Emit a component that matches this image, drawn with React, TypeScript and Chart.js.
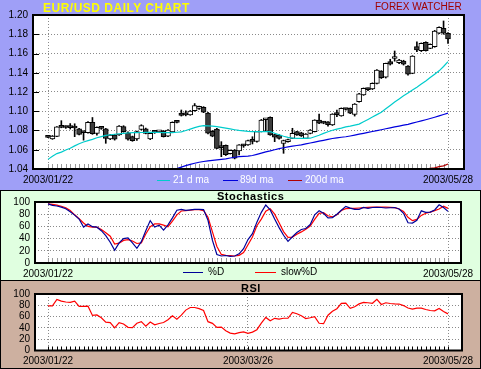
import React, { useEffect, useRef } from "react";
import { Chart, registerables } from "chart.js";

Chart.register(...registerables);

const FONT = "'Liberation Sans', Arial, sans-serif";

const dates = [
  "2003/01/22","2003/01/23","2003/01/24","2003/01/27","2003/01/28","2003/01/29","2003/01/30","2003/01/31",
  "2003/02/03","2003/02/04","2003/02/05","2003/02/06","2003/02/07","2003/02/10","2003/02/11","2003/02/12","2003/02/13","2003/02/14",
  "2003/02/17","2003/02/18","2003/02/19","2003/02/20","2003/02/21","2003/02/24","2003/02/25","2003/02/26","2003/02/27","2003/02/28",
  "2003/03/03","2003/03/04","2003/03/05","2003/03/06","2003/03/07","2003/03/10","2003/03/11","2003/03/12","2003/03/13","2003/03/14",
  "2003/03/17","2003/03/18","2003/03/19","2003/03/20","2003/03/21","2003/03/24","2003/03/25","2003/03/26","2003/03/27","2003/03/28","2003/03/31",
  "2003/04/01","2003/04/02","2003/04/03","2003/04/04","2003/04/07","2003/04/08","2003/04/09","2003/04/10","2003/04/11",
  "2003/04/14","2003/04/15","2003/04/16","2003/04/17","2003/04/18","2003/04/21","2003/04/22","2003/04/23","2003/04/24","2003/04/25",
  "2003/04/28","2003/04/29","2003/04/30","2003/05/01","2003/05/02","2003/05/05","2003/05/06","2003/05/07","2003/05/08","2003/05/09",
  "2003/05/12","2003/05/13","2003/05/14","2003/05/15","2003/05/16","2003/05/19","2003/05/20","2003/05/21","2003/05/22","2003/05/23",
  "2003/05/26","2003/05/27","2003/05/28",
];

const open = [
  1.0732, 1.0712, 1.0738, 1.0838, 1.0835, 1.0834, 1.0830, 1.0817, 1.0782, 1.0777,
  1.0885, 1.0770, 1.0826, 1.0817, 1.0712, 1.0753, 1.0753, 1.0840, 1.0777, 1.0736,
  1.0712, 1.0810, 1.0817, 1.0712, 1.0786, 1.0785, 1.0795, 1.0740, 1.0785, 1.0899,
  1.0982, 1.0970, 1.0962, 1.1005, 1.1030, 1.1040, 1.0982, 1.0792, 1.0815, 1.0632,
  1.0645, 1.0560, 1.0597, 1.0587, 1.0646, 1.0650, 1.0709, 1.0686, 1.0788, 1.0912,
  1.0937, 1.0757, 1.0753, 1.0667, 1.0684, 1.0719, 1.0788, 1.0777, 1.0719, 1.0770,
  1.0788, 1.0909, 1.0891, 1.0890, 1.0857, 1.0979, 1.0951, 1.1022, 1.1030, 1.0968,
  1.1100, 1.1169, 1.1236, 1.1231, 1.1290, 1.1418, 1.1353, 1.1515, 1.1548, 1.1504,
  1.1522, 1.1470, 1.1394, 1.1671, 1.1629, 1.1716, 1.1654, 1.1671, 1.1810, 1.1862,
  1.1810,
];
const high = [
  1.0745, 1.0748, 1.0842, 1.0902, 1.0848, 1.0872, 1.0870, 1.0822, 1.0790, 1.0892,
  1.0935, 1.0838, 1.0834, 1.0822, 1.0760, 1.0760, 1.0852, 1.0850, 1.0785, 1.0742,
  1.0795, 1.0860, 1.0825, 1.0775, 1.0792, 1.0795, 1.0800, 1.0810, 1.0890, 1.0902,
  1.1013, 1.1005, 1.1008, 1.1080, 1.1055, 1.1048, 1.0988, 1.0800, 1.0822, 1.0684,
  1.0650, 1.0598, 1.0602, 1.0655, 1.0655, 1.0700, 1.0735, 1.0792, 1.0915, 1.0925,
  1.0942, 1.0762, 1.0758, 1.0700, 1.0710, 1.0823, 1.0792, 1.0782, 1.0768, 1.0810,
  1.0912, 1.0971, 1.0895, 1.0893, 1.0975, 1.1013, 1.1035, 1.1028, 1.1035, 1.1080,
  1.1185, 1.1242, 1.1242, 1.1295, 1.1432, 1.1422, 1.1500, 1.1540, 1.1626, 1.1540,
  1.1530, 1.1475, 1.1578, 1.1720, 1.1710, 1.1722, 1.1700, 1.1840, 1.1878, 1.1938,
  1.1818,
];
const low = [
  1.0725, 1.0708, 1.0735, 1.0828, 1.0822, 1.0815, 1.0736, 1.0755, 1.0700, 1.0772,
  1.0760, 1.0752, 1.0812, 1.0667, 1.0705, 1.0700, 1.0748, 1.0782, 1.0700, 1.0688,
  1.0698, 1.0805, 1.0765, 1.0705, 1.0770, 1.0778, 1.0732, 1.0735, 1.0780, 1.0880,
  1.0950, 1.0952, 1.0958, 1.1000, 1.1020, 1.0985, 1.0765, 1.0735, 1.0610, 1.0528,
  1.0540, 1.0555, 1.0505, 1.0545, 1.0625, 1.0645, 1.0660, 1.0680, 1.0785, 1.0788,
  1.0750, 1.0684, 1.0710, 1.0563, 1.0680, 1.0715, 1.0748, 1.0738, 1.0715, 1.0765,
  1.0785, 1.0870, 1.0870, 1.0845, 1.0852, 1.0944, 1.0948, 1.1012, 1.0975, 1.0950,
  1.1095, 1.1165, 1.1215, 1.1225, 1.1285, 1.1340, 1.1345, 1.1480, 1.1520, 1.1495,
  1.1480, 1.1375, 1.1390, 1.1620, 1.1620, 1.1625, 1.1650, 1.1665, 1.1805, 1.1800,
  1.1706,
];
const close = [
  1.0728, 1.0743, 1.0838, 1.0832, 1.0831, 1.0830, 1.0826, 1.0760, 1.0778, 1.0885,
  1.0766, 1.0833, 1.0822, 1.0719, 1.0753, 1.0709, 1.0847, 1.0788, 1.0709, 1.0694,
  1.0788, 1.0850, 1.0770, 1.0770, 1.0780, 1.0790, 1.0736, 1.0805, 1.0886, 1.0884,
  1.0956, 1.0962, 1.1003, 1.1060, 1.1045, 1.0990, 1.0772, 1.0740, 1.0615, 1.0622,
  1.0548, 1.0594, 1.0512, 1.0650, 1.0640, 1.0694, 1.0686, 1.0788, 1.0909, 1.0918,
  1.0753, 1.0732, 1.0719, 1.0694, 1.0705, 1.0770, 1.0753, 1.0743, 1.0764, 1.0805,
  1.0909, 1.0875, 1.0877, 1.0860, 1.0971, 1.0965, 1.1030, 1.1018, 1.0979, 1.1075,
  1.1180, 1.1238, 1.1224, 1.1290, 1.1429, 1.1349, 1.1498, 1.1488, 1.1552, 1.1532,
  1.1488, 1.1384, 1.1574, 1.1636, 1.1706, 1.1629, 1.1695, 1.1834, 1.1872, 1.1810,
  1.1751,
];

const ma21 = [
  1.0500, 1.0532, 1.0560, 1.0575, 1.0597, 1.0615, 1.0640, 1.0662, 1.0680, 1.0695,
  1.0708, 1.0725, 1.0737, 1.0750, 1.0756, 1.0761, 1.0766, 1.0770, 1.0774, 1.0777,
  1.0778, 1.0779, 1.0780, 1.0780, 1.0780, 1.0779, 1.0778, 1.0778, 1.0778, 1.0782,
  1.0786, 1.0800, 1.0815, 1.0830, 1.0843, 1.0850, 1.0848, 1.0845, 1.0840, 1.0833,
  1.0825, 1.0816, 1.0808, 1.0801, 1.0796, 1.0791, 1.0789, 1.0789, 1.0788, 1.0788,
  1.0788, 1.0772, 1.0756, 1.0740, 1.0728, 1.0720, 1.0719, 1.0719, 1.0719, 1.0720,
  1.0735, 1.0751, 1.0770, 1.0787, 1.0803, 1.0815, 1.0825, 1.0837, 1.0845, 1.0855,
  1.0866, 1.0890, 1.0915, 1.0940, 1.0965, 1.0990, 1.1025, 1.1060, 1.1095, 1.1128,
  1.1160, 1.1190, 1.1220, 1.1250, 1.1282, 1.1315, 1.1350, 1.1385, 1.1420, 1.1465,
  1.1515,
];
const ma89 = [
  null, null, null, null, null, null, null, null, null, null,
  null, null, null, null, null, null, null, null, null, null,
  null, null, null, null, null, null, null, null, 1.0392, 1.0405,
  1.0420, 1.0435, 1.0448, 1.0460, 1.0470, 1.0478, 1.0485, 1.0490, 1.0495, 1.0500,
  1.0505, 1.0514, 1.0522, 1.0528, 1.0531, 1.0534, 1.0540, 1.0552, 1.0565, 1.0578,
  1.0588, 1.0600, 1.0611, 1.0621, 1.0630, 1.0637, 1.0644, 1.0651, 1.0661, 1.0670,
  1.0680, 1.0689, 1.0698, 1.0708, 1.0717, 1.0724, 1.0730, 1.0735, 1.0743, 1.0752,
  1.0762, 1.0771, 1.0780, 1.0790, 1.0799, 1.0808, 1.0818, 1.0827, 1.0837, 1.0846,
  1.0855, 1.0864, 1.0876, 1.0888, 1.0900, 1.0912, 1.0925, 1.0938, 1.0952, 1.0966,
  1.0980,
];
const ma200 = [
  null, null, null, null, null, null, null, null, null, null,
  null, null, null, null, null, null, null, null, null, null,
  null, null, null, null, null, null, null, null, null, null,
  null, null, null, null, null, null, null, null, null, null,
  null, null, null, null, null, null, null, null, null, null,
  null, null, null, null, null, null, null, null, null, null,
  null, null, null, null, null, null, null, null, null, null,
  null, null, null, null, null, null, null, null, null, null,
  null, null, null, null, 1.0395, 1.0400, 1.0408, 1.0412, 1.0425, 1.0432,
  1.0452,
];

const stochD = [
  97, 94.5, 93.5, 91.5, 89, 84, 78.5, 72, 59, 64,
  59.5, 58.7, 53, 45, 34, 21, 33, 40, 41.2, 33,
  24, 35, 53, 69.5, 59, 62, 54, 62.5, 74, 86.5,
  87.8, 86.2, 87, 87.8, 87.8, 87.5, 70, 37, 14, 11.5,
  12.3, 11, 11.5, 15, 23.5, 38.5, 48, 67, 83, 95,
  87, 72, 58, 45.5, 35.5, 43, 50, 55, 56.5, 63,
  79, 85.5, 81.5, 74, 74.5, 80, 86.5, 92.8, 90, 88,
  88, 91, 89.5, 91, 91.2, 91, 90.2, 90.6, 91, 88.5,
  81.5, 66, 65.4, 70, 85.5, 83, 83.5, 87, 95.5, 91,
  84.6,
];
const slowD = [
  97, 96, 95, 93, 90.5, 86, 79, 72.5, 65.5, 60,
  58.7, 58.7, 55, 49.5, 44, 31, 32.5, 37, 38.4, 36,
  32, 33, 47.5, 59.5, 64, 64.2, 62, 59.5, 68.5, 79,
  85.2, 86, 86.5, 87.5, 87.5, 86, 75, 51, 27, 14,
  12.6, 12.2, 11.5, 12.6, 17, 30, 42.5, 61, 72, 85,
  89, 80, 66, 51.5, 42, 42.5, 47, 51, 55.5, 60.5,
  71.4, 81.5, 82.5, 77.5, 75.5, 79, 86, 89, 89.5, 89.5,
  90.2, 90.8, 91.3, 91.7, 91.7, 91.7, 91.7, 91.3, 90.8, 88.5,
  84.5, 75, 69.5, 71.5, 78, 81.5, 83.5, 85.8, 88.5, 93,
  89.5,
];
const rsi = [
  79, 79, 90.5, 87.5, 85.8, 85.2, 87.3, 78.1, 78.1, 78.5,
  62, 63, 58, 50.2, 49.4, 40, 49.4, 47, 41, 40.5,
  48.3, 51, 43, 50.5, 45.5, 47.8, 49.5, 54.5, 61.5, 55.5,
  62.5, 71.5, 76.1, 76.1, 74, 70.8, 51, 48, 41, 41.5,
  35, 30.8, 29.5, 31.5, 32.8, 30.5, 32.5, 36.8, 48.5, 58.5,
  52.5, 57, 55.5, 57.1, 57.1, 67.5, 65, 61.5, 56.5, 58,
  60, 48.2, 47.5, 62.5, 69.5, 74, 83.5, 83.9, 74.5, 77.5,
  82.5, 85.2, 84.5, 83.5, 90.5, 81.5, 84.5, 83.2, 82.6, 82.2,
  79.5, 75.3, 73.2, 75, 75, 72.5, 70.8, 70.2, 74.5, 69,
  64.8,
];

const priceTicks = [1.04, 1.06, 1.08, 1.10, 1.12, 1.14, 1.16, 1.18, 1.20];
const oscTicks = [0, 20, 40, 60, 80, 100];
const priceDateTicks = ["2003/01/22", "2003/05/28"];
const stochDateTicks = ["2003/01/22", "2003/05/28"];
const rsiDateTicks = ["2003/01/22", "2003/03/26", "2003/05/28"];

const pts = (arr: (number | null)[]) =>
  arr.map((v, i) => (v == null ? null : { x: i, y: v })).filter(Boolean) as { x: number; y: number }[];

const plotBgPlugin = {
  id: "plotBg",
  beforeDraw(chart: any) {
    const { ctx, chartArea: a } = chart;
    ctx.save();
    ctx.fillStyle = "#ffffff";
    ctx.fillRect(a.left, a.top, a.right - a.left, a.bottom - a.top);
    ctx.restore();
  },
};

const framePlugin = {
  id: "frame",
  afterDraw(chart: any) {
    const { ctx, chartArea: a } = chart;
    ctx.save();
    ctx.strokeStyle = "#000";
    ctx.lineWidth = 2;
    ctx.strokeRect(a.left, a.top, a.right - a.left, a.bottom - a.top);
    ctx.restore();
  },
};

const innerTicksPlugin = {
  id: "innerTicks",
  beforeDatasetsDraw(chart: any, _args: any, opts: any) {
    const { ctx, chartArea: a, scales } = chart;
    const x = scales.x;
    const y = scales.y;
    ctx.save();
    ctx.lineWidth = 1;
    ctx.strokeStyle = opts.xColor;
    ctx.beginPath();
    for (let i = 0; i < dates.length; i++) {
      const px = Math.round(x.getPixelForValue(i)) + 0.5;
      ctx.moveTo(px, a.bottom);
      ctx.lineTo(px, a.bottom - opts.xLen);
    }
    ctx.stroke();
    if (opts.yLen) {
      ctx.strokeStyle = opts.yColor;
      ctx.beginPath();
      for (const t of y.ticks) {
        const py = Math.round(y.getPixelForValue(t.value)) + 0.5;
        ctx.moveTo(a.left, py);
        ctx.lineTo(a.left + opts.yLen, py);
      }
      ctx.stroke();
    }
    ctx.restore();
  },
};

function xScale(min: number, max: number, tickDates: string[], height: number) {
  return {
    type: "linear",
    min,
    max,
    offset: false,
    afterBuildTicks: (s: any) => {
      s.ticks = tickDates.map((d) => ({ value: dates.indexOf(d) }));
    },
    afterFit: (s: any) => {
      s.height = height;
    },
    ticks: {
      callback: (v: any) => dates[v] ?? "",
      autoSkip: false,
      maxRotation: 0,
      minRotation: 0,
      padding: 5,
      color: "#000",
      font: { family: FONT, size: 10 },
    },
    grid: { color: "#8a8a8a", drawTicks: false, lineWidth: 1, offset: false },
    border: { display: false, dash: [1, 2] },
  };
}

function yScale(min: number, max: number, vals: number[], width: number, fmt: (v: number) => string) {
  return {
    type: "linear",
    min,
    max,
    afterBuildTicks: (s: any) => {
      s.ticks = vals.map((v) => ({ value: v }));
    },
    afterFit: (s: any) => {
      s.width = width;
    },
    ticks: {
      callback: (v: any) => fmt(Number(v)),
      autoSkip: false,
      padding: 5,
      color: "#000",
      font: { family: FONT, size: 10 },
    },
    grid: { color: "#8a8a8a", drawTicks: false, lineWidth: 1 },
    border: { display: false, dash: [1, 2] },
  };
}

export default function App() {
  const priceRef = useRef<HTMLCanvasElement>(null);
  const stochRef = useRef<HTMLCanvasElement>(null);
  const rsiRef = useRef<HTMLCanvasElement>(null);

  useEffect(() => {
    const common = {
      responsive: false,
      animation: false,
      devicePixelRatio: 1,
      events: [],
    };

    const price = new Chart(priceRef.current!, {
      type: "bar",
      data: {
        datasets: [
          { type: "line", data: pts(ma21), borderColor: "#00cccc", borderWidth: 1.2, pointRadius: 0, order: -3 },
          { type: "line", data: pts(ma89), borderColor: "#0000dd", borderWidth: 1.2, pointRadius: 0, order: -2 },
          { type: "line", data: pts(ma200), borderColor: "#b00000", borderWidth: 1.2, pointRadius: 0, order: -1 },
          {
            type: "bar",
            data: dates.map((_, i) => ({ x: i, y: [open[i], close[i]] })),
            backgroundColor: dates.map((_, i) => (close[i] >= open[i] ? "#ffffff" : "#3c3c3c")),
            borderColor: "#000",
            borderWidth: 1,
            borderSkipped: false,
            barThickness: 5,
            minBarLength: 2,
            grouped: false,
            order: 0,
          },
          {
            type: "bar",
            data: dates.map((_, i) => ({ x: i, y: [low[i], high[i]] })),
            backgroundColor: "#000",
            borderWidth: 0,
            barThickness: 1,
            minBarLength: 1,
            grouped: false,
            order: 1,
          },
        ],
      } as any,
      options: {
        ...common,
        layout: { padding: { top: 15, right: 17, left: 0, bottom: 0 } },
        plugins: {
          legend: { display: false },
          tooltip: { enabled: false },
          innerTicks: { xColor: "#999", xLen: 5, yColor: "#000", yLen: 6 },
        },
        scales: {
          x: xScale(-3.375, 93.6, priceDateTicks, 21),
          y: yScale(1.04, 1.2, priceTicks, 33, (v) => v.toFixed(2)),
        },
      } as any,
      plugins: [plotBgPlugin, innerTicksPlugin, framePlugin],
    });

    const stoch = new Chart(stochRef.current!, {
      type: "line",
      data: {
        datasets: [
          { data: pts(stochD), borderColor: "#000099", borderWidth: 1.2, pointRadius: 0 },
          { data: pts(slowD), borderColor: "#ff0000", borderWidth: 1.2, pointRadius: 0 },
        ],
      } as any,
      options: {
        ...common,
        layout: { padding: { top: 12, right: 20, left: 0, bottom: 0 } },
        plugins: {
          legend: { display: false },
          tooltip: { enabled: false },
          innerTicks: { xColor: "#999", xLen: 5, yLen: 0 },
        },
        scales: {
          x: xScale(-2.925, 92.925, stochDateTicks, 17),
          y: yScale(0, 100, oscTicks, 35, (v) => String(v)),
        },
      } as any,
      plugins: [plotBgPlugin, innerTicksPlugin, framePlugin],
    });

    const rsiChart = new Chart(rsiRef.current!, {
      type: "line",
      data: {
        datasets: [{ data: pts(rsi), borderColor: "#ff0000", borderWidth: 1.2, pointRadius: 0 }],
      } as any,
      options: {
        ...common,
        layout: { padding: { top: 14, right: 19, left: 0, bottom: 0 } },
        plugins: {
          legend: { display: false },
          tooltip: { enabled: false },
          innerTicks: { xColor: "#000", xLen: 4, yLen: 0 },
        },
        scales: {
          x: xScale(-2.925, 93.15, rsiDateTicks, 18.5),
          y: yScale(0, 100, oscTicks, 35, (v) => String(v)),
        },
      } as any,
      plugins: [plotBgPlugin, innerTicksPlugin, framePlugin],
    });

    return () => {
      price.destroy();
      stoch.destroy();
      rsiChart.destroy();
    };
  }, []);

  const abs = (s: React.CSSProperties): React.CSSProperties => ({ position: "absolute", ...s });
  const txt: React.CSSProperties = { fontFamily: FONT, fontSize: 10, lineHeight: "12px", whiteSpace: "nowrap" };

  return (
    <div style={{ position: "fixed", left: 0, top: 0, width: 481, height: 369, overflow: "hidden", background: "#fff" }}>
      <div style={abs({ left: 0, top: 0, width: 481, height: 190, background: "#9f9ff7" })} />
      <div
        style={abs({
          left: 0, top: 190, width: 481, height: 90, background: "#e0ffe0",
          boxSizing: "border-box", borderTop: "1px solid #000", borderLeft: "1px solid #000", borderRight: "1px solid #000",
        })}
      />
      <div
        style={abs({
          left: 0, top: 280, width: 481, height: 89, background: "#cdb0a0",
          boxSizing: "border-box", border: "1px solid #000",
        })}
      />

      <canvas ref={priceRef} width={481} height={190} style={abs({ left: 0, top: 0, width: 481, height: 190 })} />
      <canvas ref={stochRef} width={481} height={90} style={abs({ left: 0, top: 190, width: 481, height: 90 })} />
      <canvas ref={rsiRef} width={481} height={89} style={abs({ left: 0, top: 280, width: 481, height: 89 })} />

      <span style={abs({ ...txt, left: 43, top: 1, fontSize: 12, lineHeight: "14px", fontWeight: "bold", color: "#ffff00", letterSpacing: 0.5 })}>
        EUR/USD DAILY CHART
      </span>
      <span style={abs({ ...txt, left: 375, top: 1, color: "#a00000" })}>FOREX WATCHER</span>

      <div style={abs({ left: 157, top: 180, width: 13, height: 1, background: "#00cccc" })} />
      <span style={abs({ ...txt, left: 173, top: 174, color: "#fff" })}>21 d ma</span>
      <div style={abs({ left: 223, top: 180, width: 15, height: 1, background: "#0000dd" })} />
      <span style={abs({ ...txt, left: 240, top: 174, color: "#fff" })}>89d ma</span>
      <div style={abs({ left: 288, top: 180, width: 14, height: 1, background: "#b00000" })} />
      <span style={abs({ ...txt, left: 305, top: 174, color: "#fff" })}>200d ma</span>

      <span style={abs({ ...txt, left: 217, top: 190, fontSize: 11, lineHeight: "13px", fontWeight: "bold", color: "#000", letterSpacing: 0.5 })}>
        Stochastics
      </span>
      <div style={abs({ left: 183, top: 272, width: 20, height: 1, background: "#000099" })} />
      <span style={abs({ ...txt, left: 208, top: 266, color: "#000" })}>%D</span>
      <div style={abs({ left: 255, top: 272, width: 21, height: 1, background: "#ff0000" })} />
      <span style={abs({ ...txt, left: 281, top: 266, color: "#000" })}>slow%D</span>

      <span style={abs({ ...txt, left: 241, top: 282, fontSize: 11, lineHeight: "13px", fontWeight: "bold", color: "#000", letterSpacing: 0.5 })}>
        RSI
      </span>
    </div>
  );
}
